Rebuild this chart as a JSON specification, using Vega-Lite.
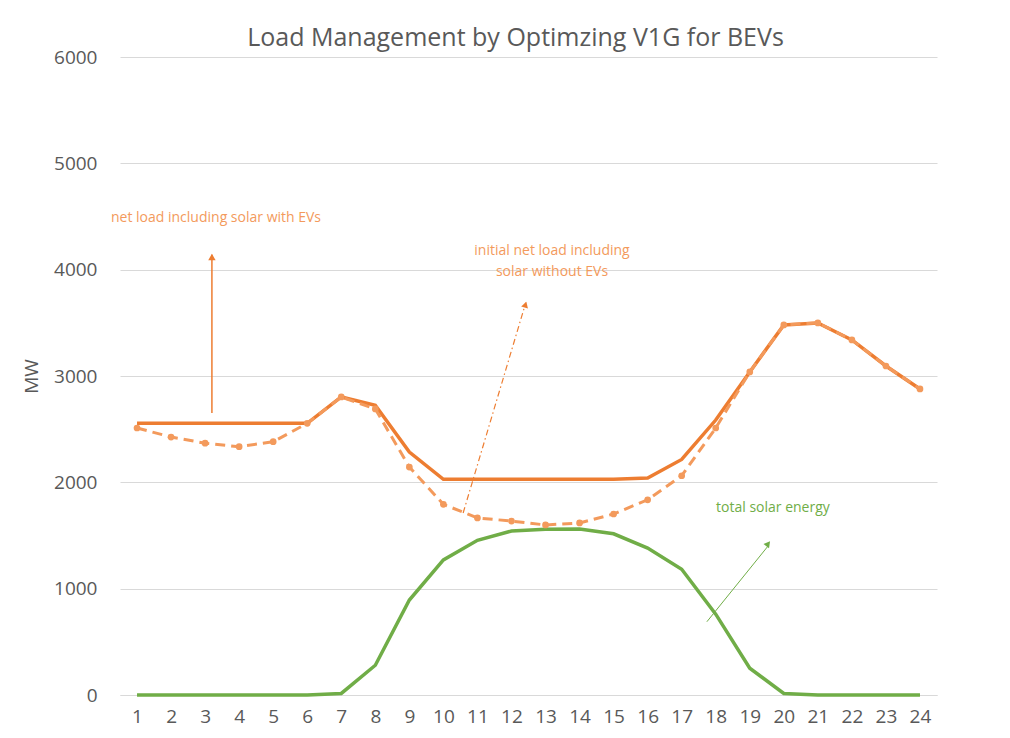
{
  "$schema": "https://vega.github.io/schema/vega-lite/v6.json",
  "width": 817,
  "height": 638,
  "autosize": "none",
  "padding": {"left": 120, "top": 57, "right": 73, "bottom": 43},
  "background": "white",
  "title": {"text": "Load Management by Optimzing V1G for BEVs", "fontSize": 25, "font": "Open Sans", "fontWeight": "normal", "color": "#595959", "offset": -3, "dx": -13},
  "datasets": {
    "load": [
      {"hour": 1, "series": "with", "mw": 2555}, {"hour": 2, "series": "with", "mw": 2555}, {"hour": 3, "series": "with", "mw": 2555}, {"hour": 4, "series": "with", "mw": 2555},
      {"hour": 5, "series": "with", "mw": 2555}, {"hour": 6, "series": "with", "mw": 2555}, {"hour": 7, "series": "with", "mw": 2803}, {"hour": 8, "series": "with", "mw": 2725},
      {"hour": 9, "series": "with", "mw": 2285}, {"hour": 10, "series": "with", "mw": 2028}, {"hour": 11, "series": "with", "mw": 2028}, {"hour": 12, "series": "with", "mw": 2028},
      {"hour": 13, "series": "with", "mw": 2028}, {"hour": 14, "series": "with", "mw": 2028}, {"hour": 15, "series": "with", "mw": 2028}, {"hour": 16, "series": "with", "mw": 2040},
      {"hour": 17, "series": "with", "mw": 2215}, {"hour": 18, "series": "with", "mw": 2586}, {"hour": 19, "series": "with", "mw": 3038}, {"hour": 20, "series": "with", "mw": 3480},
      {"hour": 21, "series": "with", "mw": 3499}, {"hour": 22, "series": "with", "mw": 3339}, {"hour": 23, "series": "with", "mw": 3094}, {"hour": 24, "series": "with", "mw": 2878},
      {"hour": 1, "series": "without", "mw": 2511}, {"hour": 2, "series": "without", "mw": 2426}, {"hour": 3, "series": "without", "mw": 2368}, {"hour": 4, "series": "without", "mw": 2335},
      {"hour": 5, "series": "without", "mw": 2382}, {"hour": 6, "series": "without", "mw": 2555}, {"hour": 7, "series": "without", "mw": 2803}, {"hour": 8, "series": "without", "mw": 2690},
      {"hour": 9, "series": "without", "mw": 2144}, {"hour": 10, "series": "without", "mw": 1793}, {"hour": 11, "series": "without", "mw": 1665}, {"hour": 12, "series": "without", "mw": 1636},
      {"hour": 13, "series": "without", "mw": 1599}, {"hour": 14, "series": "without", "mw": 1618}, {"hour": 15, "series": "without", "mw": 1702}, {"hour": 16, "series": "without", "mw": 1836},
      {"hour": 17, "series": "without", "mw": 2062}, {"hour": 18, "series": "without", "mw": 2511}, {"hour": 19, "series": "without", "mw": 3038}, {"hour": 20, "series": "without", "mw": 3480},
      {"hour": 21, "series": "without", "mw": 3499}, {"hour": 22, "series": "without", "mw": 3339}, {"hour": 23, "series": "without", "mw": 3094}, {"hour": 24, "series": "without", "mw": 2878},
      {"hour": 1, "series": "solar", "mw": 0}, {"hour": 2, "series": "solar", "mw": 0}, {"hour": 3, "series": "solar", "mw": 0}, {"hour": 4, "series": "solar", "mw": 0},
      {"hour": 5, "series": "solar", "mw": 0}, {"hour": 6, "series": "solar", "mw": 0}, {"hour": 7, "series": "solar", "mw": 15}, {"hour": 8, "series": "solar", "mw": 280},
      {"hour": 9, "series": "solar", "mw": 893}, {"hour": 10, "series": "solar", "mw": 1270}, {"hour": 11, "series": "solar", "mw": 1455}, {"hour": 12, "series": "solar", "mw": 1542},
      {"hour": 13, "series": "solar", "mw": 1558}, {"hour": 14, "series": "solar", "mw": 1560}, {"hour": 15, "series": "solar", "mw": 1516}, {"hour": 16, "series": "solar", "mw": 1382},
      {"hour": 17, "series": "solar", "mw": 1182}, {"hour": 18, "series": "solar", "mw": 760}, {"hour": 19, "series": "solar", "mw": 252}, {"hour": 20, "series": "solar", "mw": 15},
      {"hour": 21, "series": "solar", "mw": 0}, {"hour": 22, "series": "solar", "mw": 0}, {"hour": 23, "series": "solar", "mw": 0}, {"hour": 24, "series": "solar", "mw": 0}
    ],
    "labels": [
      {"label": "net load including solar with EVs", "series": "with", "hour": 3.32, "mw": 4486},
      {"label": "initial net load including", "series": "without", "hour": 13.19, "mw": 4176},
      {"label": "solar without EVs", "series": "without", "hour": 13.19, "mw": 3978},
      {"label": "total solar energy", "series": "solar", "hour": 19.68, "mw": 1759}
    ],
    "arrows": [
      {"series": "with", "hour": 3.2, "mw": 2652, "hour2": 3.2, "mw2": 4140},
      {"series": "without", "hour": 10.58, "mw": 1712, "hour2": 12.42, "mw2": 3690},
      {"series": "solar", "hour": 17.74, "mw": 689, "hour2": 19.56, "mw2": 1410}
    ],
    "heads": [
      {"series": "with", "hour": 3.2, "mw": 4119},
      {"series": "without", "hour": 12.41, "mw": 3671},
      {"series": "solar", "hour": 19.54, "mw": 1423}
    ]
  },
  "encoding": {
    "x": {"field": "hour", "type": "quantitative", "scale": {"domain": [0.5, 24.5], "nice": false, "zero": false},
          "axis": {"title": null, "values": [1,2,3,4,5,6,7,8,9,10,11,12,13,14,15,16,17,18,19,20,21,22,23,24], "format": "d", "grid": false, "domain": true, "labelPadding": 12, "labelFlush": false, "labelOverlap": false, "labelBound": false}},
    "y": {"field": "mw", "type": "quantitative", "scale": {"domain": [0, 6000], "nice": false},
          "axis": {"title": "MW", "values": [0,1000,2000,3000,4000,5000,6000], "format": "d", "grid": true, "domain": false, "labelPadding": 23, "titlePadding": 12, "labelOverlap": false}}
  },
  "layer": [
    {
      "data": {"name": "load"},
      "transform": [{"filter": "datum.series === 'solar'"}],
      "mark": {"type": "line", "color": "#70AD47", "strokeWidth": 3.5}
    },
    {
      "data": {"name": "load"},
      "transform": [{"filter": "datum.series === 'with'"}],
      "mark": {"type": "line", "color": "#ED7D31", "strokeWidth": 3.5}
    },
    {
      "data": {"name": "load"},
      "transform": [{"filter": "datum.series === 'without'"}],
      "mark": {"type": "line", "color": "#F39A5C", "strokeWidth": 3, "strokeDash": [10, 6], "point": {"filled": true, "size": 45, "color": "#F39A5C"}}
    },
    {
      "data": {"name": "labels"},
      "mark": {"type": "text", "fontSize": 14, "font": "Open Sans", "align": "center", "baseline": "middle"},
      "encoding": {
        "text": {"field": "label"},
        "color": {"field": "series", "type": "nominal", "scale": {"domain": ["with", "without", "solar"], "range": ["#F39A5C", "#F39A5C", "#70AD47"]}, "legend": null}
      }
    },
    {
      "data": {"name": "arrows"},
      "transform": [{"filter": "datum.series === 'with'"}],
      "mark": {"type": "rule", "color": "#ED7D31", "strokeWidth": 1.5},
      "encoding": {"x2": {"field": "hour2"}, "y2": {"field": "mw2"}}
    },
    {
      "data": {"name": "arrows"},
      "transform": [{"filter": "datum.series === 'without'"}],
      "mark": {"type": "rule", "color": "#ED7D31", "strokeWidth": 1.2, "strokeDash": [6, 3, 1.5, 3]},
      "encoding": {"x2": {"field": "hour2"}, "y2": {"field": "mw2"}}
    },
    {
      "data": {"name": "arrows"},
      "transform": [{"filter": "datum.series === 'solar'"}],
      "mark": {"type": "rule", "color": "#70AD47", "strokeWidth": 1},
      "encoding": {"x2": {"field": "hour2"}, "y2": {"field": "mw2"}}
    },
    {
      "data": {"name": "heads"},
      "transform": [{"filter": "datum.series === 'with'"}],
      "mark": {"type": "point", "shape": "triangle-up", "filled": true, "size": 55, "color": "#ED7D31", "opacity": 1, "angle": 0}
    },
    {
      "data": {"name": "heads"},
      "transform": [{"filter": "datum.series === 'without'"}],
      "mark": {"type": "point", "shape": "triangle-up", "filled": true, "size": 50, "color": "#ED7D31", "opacity": 1, "angle": 16.6}
    },
    {
      "data": {"name": "heads"},
      "transform": [{"filter": "datum.series === 'solar'"}],
      "mark": {"type": "point", "shape": "triangle-up", "filled": true, "size": 50, "color": "#70AD47", "opacity": 1, "angle": 38.2}
    }
  ],
  "config": {
    "view": {"stroke": null},
    "font": "Open Sans",
    "axis": {"labelColor": "#595959", "labelFontSize": 19, "labelFont": "Open Sans", "titleColor": "#595959", "titleFontSize": 19, "titleFont": "Open Sans", "titleFontWeight": "normal", "gridColor": "#d9d9d9", "gridWidth": 1.2, "domainColor": "#d9d9d9", "domainWidth": 1.2, "ticks": false, "labelOverlap": false}
  }
}
